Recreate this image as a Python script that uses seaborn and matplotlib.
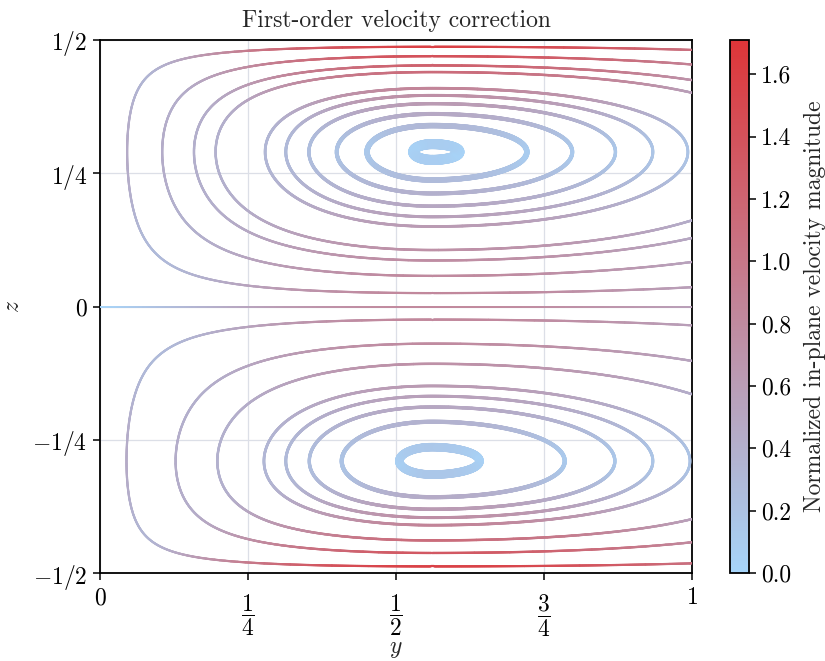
import numpy as np
import matplotlib
matplotlib.use("Agg")
import matplotlib.pyplot as plt
import seaborn as sns
from matplotlib.collections import LineCollection
from matplotlib.colors import Normalize

# ---- values ----
# streamfunction levels (fraction of vortex-centre value) of the drawn streamlines
upper_levels = [0.128, 0.29, 0.43, 0.52, 0.704, 0.77, 0.835, 0.90, 0.953, 0.996]
lower_levels = [0.125, 0.35, 0.527, 0.70, 0.77, 0.836, 0.91, 0.988]
# vortex model parameters (centre position, shape, amplitude)
y_centre = 0.561
skew_k = 1.06          # puts vortex centres at z = +/-0.29
right_decay = 1.88
amplitude = 0.1633     # gives peak speed ~1.71

x_ticks = [0, 0.25, 0.5, 0.75, 1]
x_ticklabels = [r"$0$", r"$\dfrac{1}{4}$", r"$\dfrac{1}{2}$", r"$\dfrac{3}{4}$", r"$1$"]
z_ticks = [-0.5, -0.25, 0, 0.25, 0.5]
z_ticklabels = [r"$-1/2$", r"$-1/4$", r"$0$", r"$1/4$", r"$1/2$"]
cbar_ticks = [0.0, 0.2, 0.4, 0.6, 0.8, 1.0, 1.2, 1.4, 1.6]
title = "First-order velocity correction"
cbar_label = "Normalized in-plane velocity magnitude"

# ---- field model ----
def F(y):
    d = y - y_centre
    left = np.cos(np.pi / (2 * y_centre) * d)
    right = np.exp(-right_decay * d ** 2)
    return np.where(d < 0, left, right)

def dF(y):
    d = y - y_centre
    a = np.pi / (2 * y_centre)
    left = -a * np.sin(a * d)
    right = -2 * right_decay * d * np.exp(-right_decay * d ** 2)
    return np.where(d < 0, left, right)

_s = np.linspace(0, 1, 20001)
_G = _s * (1 - _s) * (1 + skew_k * _s)
G_MAX = _G.max()

def Gn(z):
    s = 2 * np.abs(z)
    return s * (1 - s) * (1 + skew_k * s) / G_MAX

def dGn(z):
    s = 2 * np.abs(z)
    return 2 * (1 - 2 * s + 2 * skew_k * s - 3 * skew_k * s ** 2) / G_MAX

def psi_n(y, z):
    return F(y) * np.sign(z) * Gn(z)

def speed(y, z):
    uy = amplitude * F(y) * dGn(z)
    uz = -amplitude * dF(y) * np.sign(z) * Gn(z)
    return np.hypot(uy, uz)

yy = np.linspace(0, 1, 901)
zz = np.linspace(-0.5, 0.5, 1001)
Y, Z = np.meshgrid(yy, zz)
PSI = psi_n(Y, Z)
SPEED = speed(Y, Z)
vmax = float(SPEED.max())

# ---- style ----
sns.set_theme(style="ticks")
plt.rcParams["font.family"] = ["cmr10", "DejaVu Serif"]
plt.rcParams["mathtext.fontset"] = "cm"
plt.rcParams["axes.formatter.use_mathtext"] = True
plt.rcParams["axes.unicode_minus"] = False

cmap = sns.blend_palette(["#a6d5fa", "#de3538"], as_cmap=True)
norm = Normalize(0, vmax)

fig = plt.figure(figsize=(8.25, 6.61), dpi=100)
ax = fig.add_axes([100 / 825, 88 / 661, 592 / 825, 533 / 661])
cax = fig.add_axes([730 / 825, 88 / 661, 19 / 825, 533 / 661])

def lw_for(level):
    return 1.35 + 0.2 / (1.03 - abs(level))

levels = sorted([-l for l in lower_levels] + list(upper_levels))
cs = ax.contour(Y, Z, PSI, levels=levels)
all_segs = cs.allsegs
cs.remove()

collections = []
for lev, segs in zip(levels, all_segs):
    for seg in segs:
        if len(seg) < 2:
            continue
        pts = seg.reshape(-1, 1, 2)
        segments = np.concatenate([pts[:-1], pts[1:]], axis=1)
        mid = 0.5 * (seg[:-1] + seg[1:])
        lc = LineCollection(segments, cmap=cmap, norm=norm,
                            linewidths=lw_for(lev), capstyle="round",
                            joinstyle="round", zorder=3)
        lc.set_array(speed(mid[:, 0], mid[:, 1]))
        ax.add_collection(lc)
        collections.append(lc)

# the dividing streamline z = 0 (psi = 0)
y0 = np.linspace(0, 1, 600)
line0 = np.column_stack([y0, np.zeros_like(y0)])
pts = line0.reshape(-1, 1, 2)
segments = np.concatenate([pts[:-1], pts[1:]], axis=1)
mid = 0.5 * (line0[:-1] + line0[1:])
lc0 = LineCollection(segments, cmap=cmap, norm=norm, linewidths=1.4, zorder=3)
lc0.set_array(amplitude * F(mid[:, 0]) * dGn(mid[:, 1] * 0 + 1e-9))
ax.add_collection(lc0)

ax.set_xlim(0, 1)
ax.set_ylim(-0.5, 0.5)
ax.set_xticks(x_ticks)
ax.set_xticklabels(x_ticklabels)
ax.set_yticks(z_ticks)
ax.set_yticklabels(z_ticklabels)
ax.tick_params(direction="out", length=5, width=1.1, colors="black",
               labelsize=17, pad=4)
for i, t in enumerate(ax.xaxis.get_major_ticks()):
    t.set_pad(9 if 0 < i < 4 else 5)
ax.grid(True, color="#dcdfe7", linewidth=0.9, zorder=0)
ax.set_axisbelow(True)
for sp in ax.spines.values():
    sp.set_color("black")
    sp.set_linewidth(1.3)
ax.set_xlabel(r"$y$", fontsize=17, labelpad=-1)
ax.set_ylabel(r"$z$", fontsize=17, labelpad=6)
ax.set_title(title, fontsize=17, pad=9)

cb = fig.colorbar(collections[0], cax=cax)
cb.set_ticks(cbar_ticks)
cb.set_ticklabels([f"{t:.1f}" for t in cbar_ticks])
cb.ax.tick_params(direction="out", length=5, width=1.1, labelsize=17, colors="black")
cb.outline.set_edgecolor("black")
cb.outline.set_linewidth(1.3)
cb.set_label(cbar_label, fontsize=17, labelpad=9)

fig.savefig("out.png", dpi=100)
